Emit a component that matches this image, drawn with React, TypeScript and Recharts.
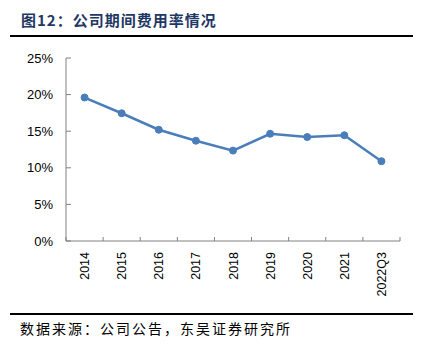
import React from "react";
import { LineChart, Line, XAxis, YAxis } from "recharts";

const categories = ["2014", "2015", "2016", "2017", "2018", "2019", "2020", "2021", "2022Q3"];
const expenseRate = [0.196, 0.1745, 0.152, 0.137, 0.1235, 0.1465, 0.142, 0.1445, 0.109];
const yTicks = [0, 0.05, 0.1, 0.15, 0.2, 0.25];

const data = categories.map((c, i) => ({ name: c, v: expenseRate[i] }));

const AXIS_COLOR = "#808080";
const LINE_COLOR = "#4a7ebb";
const FONT = "'Liberation Sans', Arial, sans-serif";

const YTick = (props: any) => {
  const { x, y, payload } = props;
  return (
    <g>
      <text x={x} y={y} dy={4.5} textAnchor="end" fontSize={13} fontFamily={FONT} fill="#000">
        {Math.round(payload.value * 100) + "%"}
      </text>
      <line x1={x + 13} x2={x + 18} y1={y} y2={y} stroke={AXIS_COLOR} strokeWidth={1} />
    </g>
  );
};

const XTick = (props: any) => {
  const { x, y, payload, index } = props;
  const half = payload.offset || 0;
  const isLast = index === categories.length - 1;
  return (
    <g>
      <line x1={x - half} x2={x - half} y1={y} y2={y - 4} stroke={AXIS_COLOR} strokeWidth={1} />
      {isLast && <line x1={x + half} x2={x + half} y1={y} y2={y - 4} stroke={AXIS_COLOR} strokeWidth={1} />}
      <text
        x={0}
        y={0}
        transform={`translate(${x + 4.5},${y + 11}) rotate(-90)`}
        textAnchor="end"
        fontSize={12.5}
        fontFamily={FONT}
        fill="#000"
      >
        {payload.value}
      </text>
    </g>
  );
};

export default function App() {
  return (
    <div style={{ position: "absolute", left: 0, top: 0, width: 424, height: 353, background: "#fff", overflow: "hidden" }}>
      <div
        style={{
          position: "absolute",
          left: 21,
          top: 9,
          fontSize: 15,
          fontWeight: "bold",
          letterSpacing: 1,
          color: "#1f3864",
          fontFamily: "'Noto Sans CJK SC', sans-serif",
          whiteSpace: "nowrap",
        }}
      >
        图12：公司期间费用率情况
      </div>
      <div style={{ position: "absolute", left: 10, top: 34.5, width: 403, height: 2, background: "#000" }} />
      <div style={{ position: "absolute", left: 0, top: 0 }}>
        <LineChart width={424} height={353} data={data} margin={{ top: 58, right: 24, bottom: 0, left: 16 }}>
          <XAxis
            dataKey="name"
            scale="band"
            height={112}
            tickSize={0}
            tickMargin={0}
            tickLine={false}
            axisLine={{ stroke: AXIS_COLOR, strokeWidth: 1 }}
            tick={<XTick />}
            interval={0}
          />
          <YAxis
            width={50}
            domain={[0, 0.25]}
            ticks={yTicks}
            tickSize={0}
            tickMargin={13}
            tickLine={false}
            axisLine={{ stroke: AXIS_COLOR, strokeWidth: 1 }}
            tick={<YTick />}
          />
          <Line
            dataKey="v"
            stroke={LINE_COLOR}
            strokeWidth={2.5}
            dot={{ r: 3.5, fill: LINE_COLOR, stroke: LINE_COLOR, strokeWidth: 1 }}
            isAnimationActive={false}
          />
        </LineChart>
      </div>
      <div style={{ position: "absolute", left: 10, top: 313, width: 403, height: 1.5, background: "#000" }} />
      <div
        style={{
          position: "absolute",
          left: 20,
          top: 318,
          fontSize: 14,
          letterSpacing: 2,
          color: "#000",
          fontFamily: "'Noto Sans CJK SC', sans-serif",
          whiteSpace: "nowrap",
        }}
      >
        数据来源：公司公告，东吴证券研究所
      </div>
    </div>
  );
}
